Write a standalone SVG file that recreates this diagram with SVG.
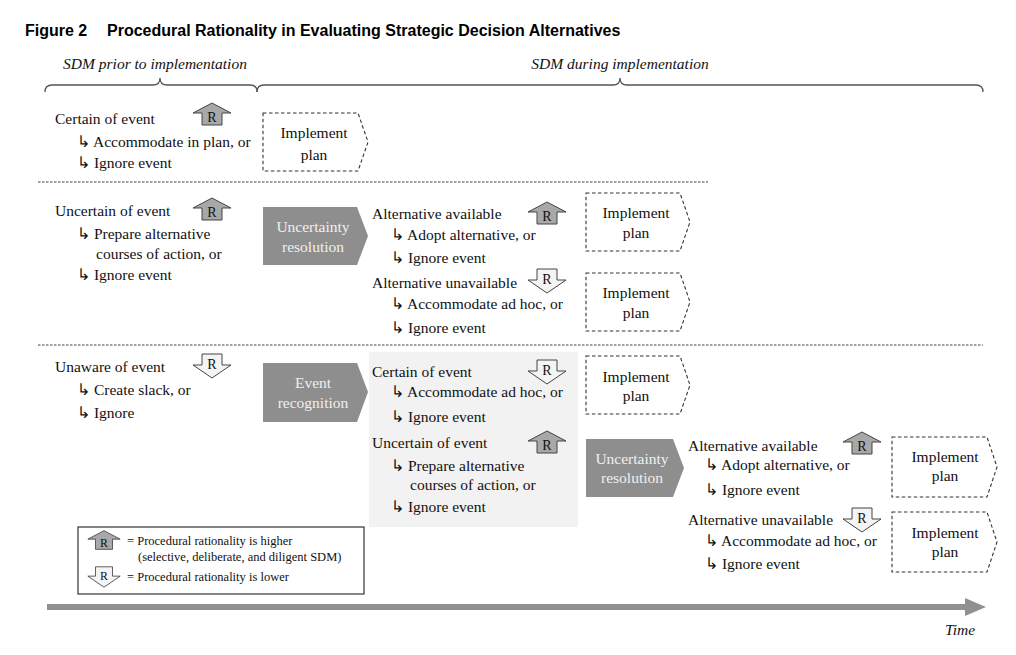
<svg xmlns="http://www.w3.org/2000/svg" width="1016" height="655" viewBox="0 0 1016 655">
<style>
.t{font-family:"Liberation Serif","Times New Roman",serif;font-size:15.5px;fill:#111}
.it{font-family:"Liberation Serif","Times New Roman",serif;font-size:15.5px;font-style:italic;fill:#111}
.ttl{font-family:"Liberation Sans",Arial,sans-serif;font-size:16px;font-weight:bold;fill:#000}
.wt{font-family:"Liberation Serif","Times New Roman",serif;font-size:15.5px;fill:#f0f0f0;text-anchor:middle}
.ct{text-anchor:middle}
.lg{font-family:"Liberation Serif","Times New Roman",serif;font-size:12.5px;fill:#111}
.dash{fill:#fff;stroke:#333;stroke-width:1.1;stroke-dasharray:3.5 2.5}
.gray{fill:#8e8e8e;stroke:none}
.sep{stroke:#444;stroke-width:1;stroke-dasharray:2.5 1.5;fill:none}
.brace{stroke:#555;stroke-width:1.3;fill:none}
.up{fill:#a8a8a8;stroke:#444;stroke-width:1}
.dn{fill:#f4f4f4;stroke:#444;stroke-width:1}
.rl{font-family:"Liberation Serif","Times New Roman",serif;font-size:14px;fill:#111;text-anchor:middle}
</style>
<defs>
<g id="rup">
<path class="up" d="M0,-11 L19,-1 L10,-1 L10,11 L-10,11 L-10,-1 L-19,-1 Z"/>
<text class="rl" x="0" y="8">R</text>
</g>
<g id="rdn">
<path class="dn" d="M-10,-12 L10,-12 L10,-1 L19,-1 L0,12 L-19,-1 L-10,-1 Z"/>
<text class="rl" x="0" y="3">R</text>
</g>
</defs>

<g id="title">
<text class="ttl" x="25" y="36">Figure 2</text>
<text class="ttl" x="107" y="36">Procedural Rationality in Evaluating Strategic Decision Alternatives</text>
</g>

<g id="phases">
<text class="it ct" x="155" y="69">SDM prior to implementation</text>
<text class="it ct" x="620" y="69">SDM during implementation</text>
<path class="brace" d="M45,92 Q45,85 52,85 H153 Q160,85 160,78 Q160,85 167,85 H250 Q257,85 257,92"/>
<path class="brace" d="M257,92 Q257,85 264,85 H613 Q620,85 620,78 Q620,85 627,85 H976 Q983,85 983,92"/>
</g>

<g id="separators">
<line class="sep" x1="38" y1="182" x2="708" y2="182"/>
<line class="sep" x1="38" y1="345" x2="983" y2="345"/>
</g>

<g id="graybox">
<rect x="369" y="352" width="209" height="175" fill="#f2f2f2"/>
</g>

<g id="row1-prior">
<text class="t" x="55" y="124">Certain of event</text>
<text class="t" x="77" y="147">↳ Accommodate in plan, or</text>
<text class="t" x="77" y="168">↳ Ignore event</text>
<use href="#rup" x="212" y="114"/>
</g>
<g id="row1-impl">
<path class="dash" d="M263,113 H358 L368,142 L358,171 H263 Z"/>
<text class="t ct" x="314" y="138">Implement</text>
<text class="t ct" x="314" y="160">plan</text>
</g>

<g id="row2-prior">
<text class="t" x="55" y="216">Uncertain of event</text>
<text class="t" x="77" y="239">↳ Prepare alternative</text>
<text class="t" x="96" y="259">courses of action, or</text>
<text class="t" x="77" y="280">↳ Ignore event</text>
<use href="#rup" x="212" y="209"/>
</g>
<g id="row2-resolution">
<path class="gray" d="M263,207 H357 L368,236 L357,265 H263 Z"/>
<text class="wt" x="313" y="232">Uncertainty</text>
<text class="wt" x="313" y="252">resolution</text>
</g>
<g id="row2-options">
<text class="t" x="372" y="219">Alternative available</text>
<text class="t" x="391" y="240">↳ Adopt alternative, or</text>
<text class="t" x="391" y="263">↳ Ignore event</text>
<use href="#rup" x="547" y="213"/>
<text class="t" x="372" y="288">Alternative unavailable</text>
<text class="t" x="391" y="309">↳ Accommodate ad hoc, or</text>
<text class="t" x="391" y="333">↳ Ignore event</text>
<use href="#rdn" x="547" y="281"/>
</g>
<g id="row2-impl-a">
<path class="dash" d="M586,193 H680 L690,222 L680,251 H586 Z"/>
<text class="t ct" x="636" y="218">Implement</text>
<text class="t ct" x="636" y="238">plan</text>
</g>
<g id="row2-impl-b">
<path class="dash" d="M586,273 H680 L690,302 L680,331 H586 Z"/>
<text class="t ct" x="636" y="298">Implement</text>
<text class="t ct" x="636" y="318">plan</text>
</g>

<g id="row3-prior">
<text class="t" x="55" y="372">Unaware of event</text>
<text class="t" x="77" y="395">↳ Create slack, or</text>
<text class="t" x="77" y="418">↳ Ignore</text>
<use href="#rdn" x="212" y="366"/>
</g>
<g id="row3-recognition">
<path class="gray" d="M263,363 H357 L368,392 L357,422 H263 Z"/>
<text class="wt" x="313" y="388">Event</text>
<text class="wt" x="313" y="408">recognition</text>
</g>
<g id="row3-options">
<text class="t" x="372" y="377">Certain of event</text>
<text class="t" x="391" y="397">↳ Accommodate ad hoc, or</text>
<text class="t" x="391" y="422">↳ Ignore event</text>
<use href="#rdn" x="547" y="372"/>
<text class="t" x="372" y="448">Uncertain of event</text>
<text class="t" x="391" y="471">↳ Prepare alternative</text>
<text class="t" x="410" y="490">courses of action, or</text>
<text class="t" x="391" y="512">↳ Ignore event</text>
<use href="#rup" x="547" y="442"/>
</g>
<g id="row3-impl">
<path class="dash" d="M586,356 H680 L690,385 L680,414 H586 Z"/>
<text class="t ct" x="636" y="382">Implement</text>
<text class="t ct" x="636" y="401">plan</text>
</g>
<g id="row3-resolution">
<path class="gray" d="M586,439 H673 L684,468 L673,497 H586 Z"/>
<text class="wt" x="632" y="464">Uncertainty</text>
<text class="wt" x="632" y="483">resolution</text>
</g>
<g id="row3-suboptions">
<text class="t" x="688" y="451">Alternative available</text>
<text class="t" x="705" y="470">↳ Adopt alternative, or</text>
<text class="t" x="705" y="495">↳ Ignore event</text>
<use href="#rup" x="862" y="443"/>
<text class="t" x="688" y="525">Alternative unavailable</text>
<text class="t" x="705" y="546">↳ Accommodate ad hoc, or</text>
<text class="t" x="705" y="569">↳ Ignore event</text>
<use href="#rdn" x="862" y="520"/>
</g>
<g id="row3-impl-a">
<path class="dash" d="M892,437 H987 L997,467 L987,497 H892 Z"/>
<text class="t ct" x="945" y="462">Implement</text>
<text class="t ct" x="945" y="481">plan</text>
</g>
<g id="row3-impl-b">
<path class="dash" d="M892,512 H987 L997,542 L987,572 H892 Z"/>
<text class="t ct" x="945" y="538">Implement</text>
<text class="t ct" x="945" y="557">plan</text>
</g>

<g id="legend">
<rect x="78" y="527" width="286" height="67" fill="#fff" stroke="#333" stroke-width="1.2"/>
<use href="#rup" transform="translate(104,540) scale(0.85)"/>
<text class="lg" x="127" y="545">= Procedural rationality is higher</text>
<text class="lg" x="138" y="561">(selective, deliberate, and diligent SDM)</text>
<use href="#rdn" transform="translate(104,577) scale(0.85)"/>
<text class="lg" x="127" y="581">= Procedural rationality is lower</text>
</g>

<g id="time">
<line x1="47" y1="607" x2="968" y2="607" stroke="#909090" stroke-width="6"/>
<path d="M965,598 L986,607 L965,616 Z" fill="#909090"/>
<text class="it" x="945" y="635">Time</text>
</g>
</svg>
